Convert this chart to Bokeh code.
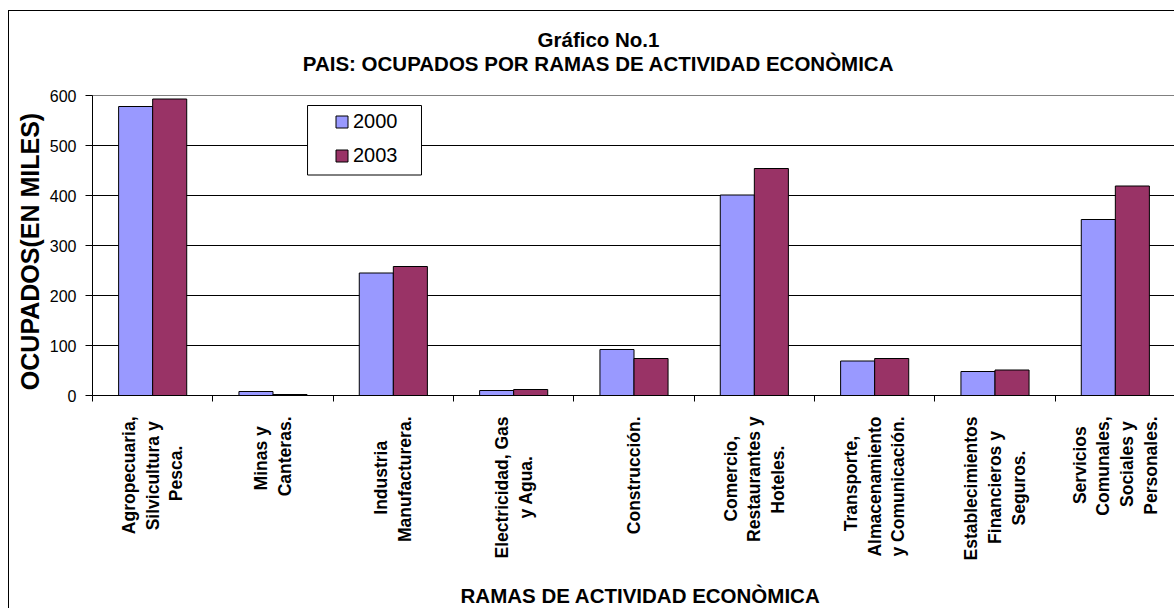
import math
from bokeh.plotting import figure
from bokeh.models import (ColumnDataSource, Range1d, FixedTicker,
                          CustomJSTickFormatter, Label, Legend, LegendItem, BoxAnnotation)
from bokeh.transform import dodge
from bokeh.embed import file_html
from bokeh.resources import INLINE

# ---------------- data ----------------
categories = [
    "Agropecuaria, Silvicultura y Pesca.",
    "Minas y Canteras.",
    "Industria Manufacturera.",
    "Electricidad, Gas y Agua.",
    "Construcción.",
    "Comercio, Restaurantes y Hoteles.",
    "Transporte, Almacenamiento y Comunicación.",
    "Establecimientos Financieros y Seguros.",
    "Servicios Comunales, Sociales y Personales.",
]
tick_labels = [
    "Agropecuaria,\nSilvicultura y\nPesca.",
    "Minas y\nCanteras.",
    "Industria\nManufacturera.",
    "Electricidad, Gas\ny Agua.",
    "Construcción.",
    "Comercio,\nRestaurantes y\nHoteles.",
    "Transporte,\nAlmacenamiento\ny Comunicación.",
    "Establecimientos\nFinancieros y\nSeguros.",
    "Servicios\nComunales,\nSociales y\nPersonales.",
]
series_names = ["2000", "2003"]
ocupados_2000 = [578, 8, 245, 10, 92, 401, 69, 48, 352]
ocupados_2003 = [593, 2, 258, 12, 74, 454, 74, 51, 419]
y_ticks = [0, 100, 200, 300, 400, 500, 600]

title_lines = ["Gráfico No.1", "PAIS: OCUPADOS POR RAMAS DE ACTIVIDAD ECONÒMICA"]
x_title = "RAMAS DE ACTIVIDAD ECONÒMICA"
y_title = "OCUPADOS(EN MILES)"

# ---------------- style ----------------
FONT = "Liberation Sans"
C2000 = "#9999FF"
C2003 = "#993366"

# approximate Arial Bold advance widths (em) used to centre the lines of each
# rotated category label (Bokeh justifies multi-line tick labels to one side)
_W = {"A": .722, "C": .722, "E": .667, "F": .611, "G": .778, "H": .722, "I": .278, "M": .833,
      "P": .667, "R": .722, "S": .667, "T": .611, "a": .556, "b": .611, "c": .556, "d": .611,
      "e": .556, "f": .333, "g": .611, "h": .611, "i": .278, "l": .278, "m": .889, "n": .611,
      "o": .611, "p": .611, "r": .389, "s": .556, "t": .333, "u": .611, "v": .556, "y": .556,
      "ó": .611, "á": .556, ",": .278, ".": .278, " ": .278}
NBSP = "\u00a0"


def _em(s):
    return sum(_W.get(ch, 0.6) for ch in s)


def centre_lines(label):
    lines = label.split("\n")
    longest = max(_em(s) for s in lines)
    out = []
    for s in lines:
        pad = int(round((longest - _em(s)) / 2 / _W[" "]))
        out.append(s + NBSP * pad)
    return "\n".join(out)


display_labels = [centre_lines(t) for t in tick_labels]

n_cat = len(categories)
p = figure(width=1166, height=598,
           x_range=Range1d(0, n_cat), y_range=Range1d(0, 600),
           output_backend="svg", toolbar_location=None,
           min_border_left=83, min_border_right=0, min_border_top=84, min_border_bottom=214,
           background_fill_color="white", border_fill_color="white",
           outline_line_color="#808080", outline_line_width=1)
p.styles = {"border-left": "1px solid black", "border-top": "1px solid black",
            "margin-left": "8px", "margin-top": "10px"}

slot = [i + 0.5 for i in range(n_cat)]  # centre of each category slot

# x axis: category names at slot centres, tick marks between categories (minor ticks)
xa = p.xaxis[0]
xa.ticker = FixedTicker(ticks=slot, minor_ticks=list(range(n_cat + 1)))
xa.formatter = CustomJSTickFormatter(args=dict(labels=display_labels),
                                     code="return labels[Math.floor(tick)]")
xa.major_tick_line_color = None
xa.major_tick_in = 0
xa.major_tick_out = 0
xa.minor_tick_in = 0
xa.minor_tick_out = 6
xa.minor_tick_line_color = "black"
xa.axis_line_color = "black"
xa.major_label_orientation = math.pi / 2
xa.major_label_standoff = 15
xa.major_label_text_font = FONT
xa.major_label_text_font_size = "17.5px"
xa.major_label_text_font_style = "bold"
xa.major_label_text_color = "black"
xa.major_label_text_line_height = 1.19
p.xgrid.visible = False

# y axis
ya = p.yaxis[0]
ya.ticker = FixedTicker(ticks=y_ticks)
ya.major_tick_in = 0
ya.major_tick_out = 7
ya.minor_tick_line_color = None
ya.axis_line_color = "black"
ya.major_tick_line_color = "black"
ya.major_label_text_font = FONT
ya.major_label_text_font_size = "16px"
ya.major_label_text_color = "black"
ya.major_label_standoff = 9

p.ygrid.ticker = FixedTicker(ticks=[t for t in y_ticks if 0 < t < 600])
p.ygrid.grid_line_color = "black"
p.ygrid.grid_line_width = 1

src = ColumnDataSource(dict(cat=categories, slot=slot, y2000=ocupados_2000, y2003=ocupados_2003))
bw = 0.283
r1 = p.vbar(x=dodge("slot", -bw / 2), top="y2000", width=bw, bottom=0,
            source=src, fill_color=C2000, line_color="black", line_width=1)
r2 = p.vbar(x=dodge("slot", bw / 2), top="y2003", width=bw, bottom=0,
            source=src, fill_color=C2003, line_color="black", line_width=1)

# legend box + legend
box = BoxAnnotation(left=1.787, right=2.734, top=580, bottom=441,
                    fill_color="white", fill_alpha=1, line_color="black", line_width=1,
                    line_alpha=1)
p.add_layout(box)

legend = Legend(items=[LegendItem(label=series_names[0], renderers=[r1]),
                       LegendItem(label=series_names[1], renderers=[r2])],
                location=(242, 228), orientation="vertical",
                padding=0, margin=0, spacing=11,
                glyph_width=15, glyph_height=15, label_standoff=4,
                label_text_font=FONT, label_text_font_size="20px", label_text_color="black",
                border_line_color=None, background_fill_alpha=0)
p.add_layout(legend)


def add_text(text, x, y, x_off, y_off, size, side, bold=True, angle=0.0):
    p.add_layout(Label(x=x, y=y, x_units="data", y_units="data",
                       x_offset=x_off, y_offset=y_off, text=text,
                       text_font=FONT, text_font_size=f"{size}px",
                       text_font_style="bold" if bold else "normal",
                       text_align="center", text_baseline="middle",
                       angle=angle, text_color="black"), side)


# titles (placed in side panels so they are not clipped to the plot frame)
add_text(title_lines[1], 0, 600, 506, 32, 20.5, "above")
add_text(title_lines[0], 0, 600, 506, 56, 20.5, "above")
add_text(x_title, 0, 0, 548, -200, 20.5, "below")
add_text(y_title, 0, 0, -62.5, 144, 25, "left", angle=math.pi / 2)

open("out.html", "w").write(file_html(p, INLINE))
